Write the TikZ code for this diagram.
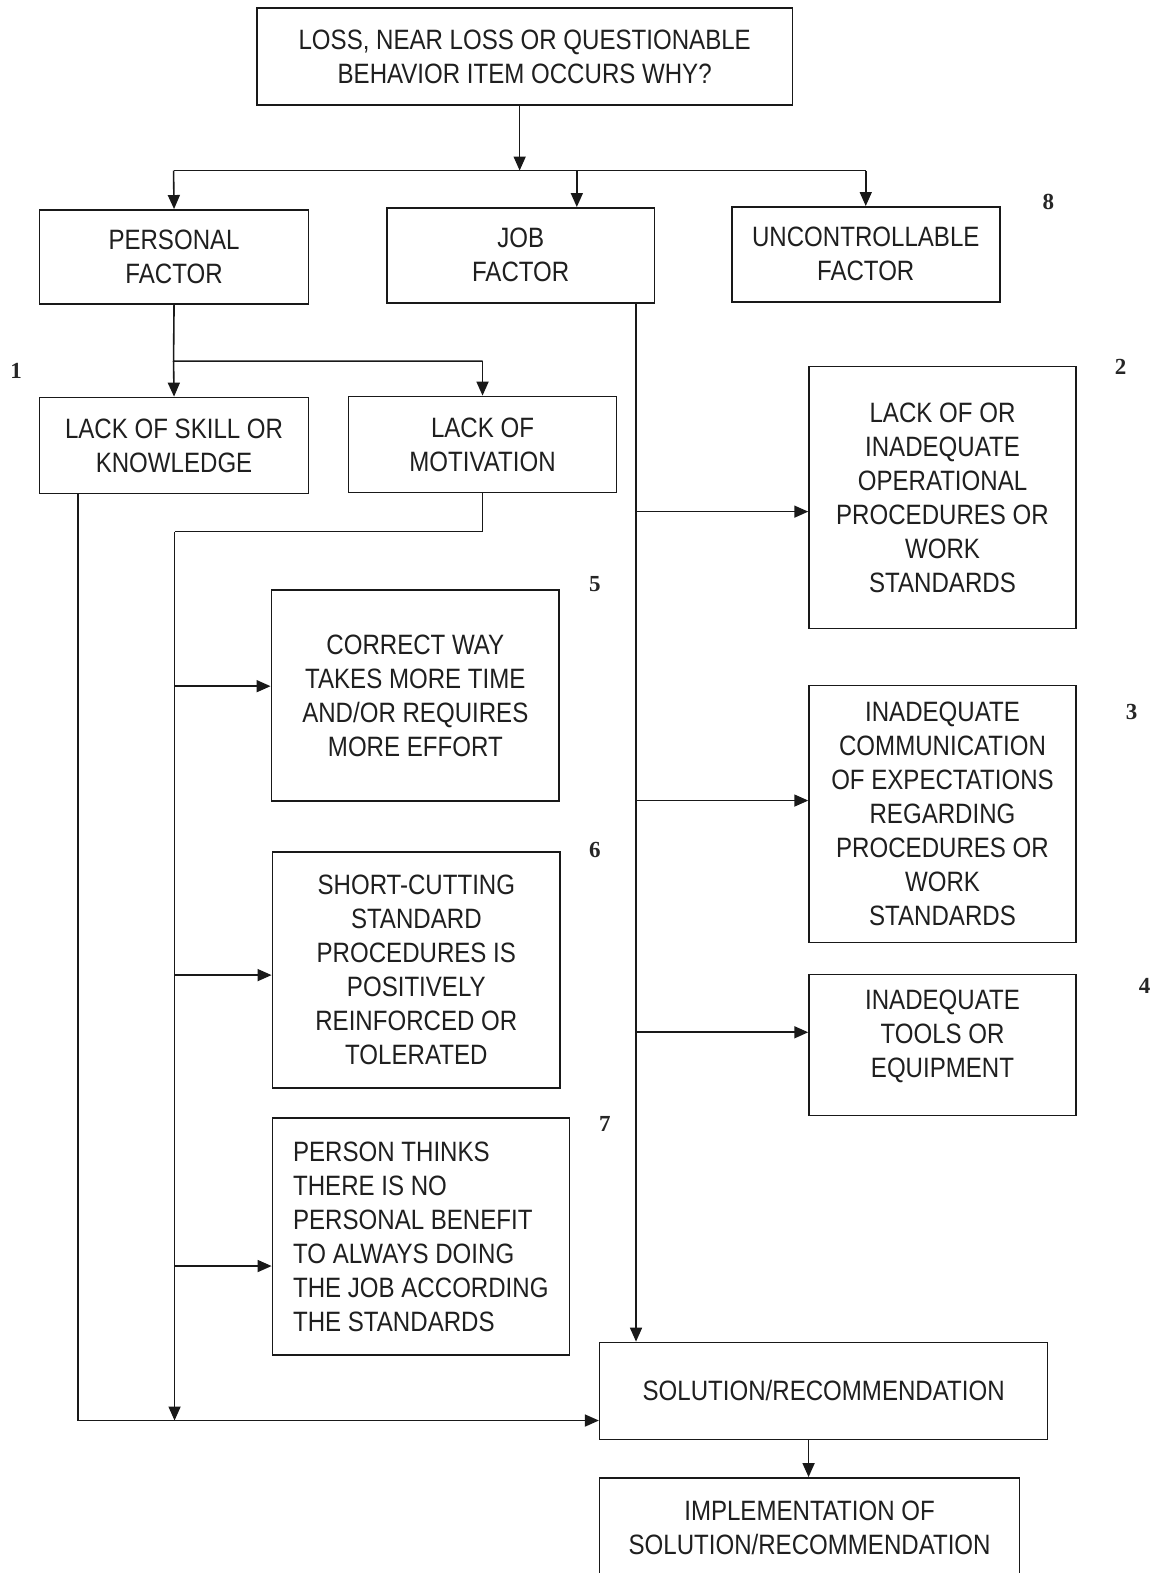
\documentclass[tikz,border=0pt]{standalone}
\usepackage{fontspec}
\setmainfont{Liberation Sans}[FakeStretch=0.86]
\newfontfamily\numfont{Liberation Serif}
\usetikzlibrary{arrows.meta}
\begin{document}
\begin{tikzpicture}[x=1.0035pt,y=-1.0035pt,
  box/.style={draw=black!90, line width=1.6pt, align=center, inner sep=0pt, text=black!88,
    font=\fontsize{28}{34}\selectfont},
  ln/.style={draw=black!90, line width=1.6pt},
  arr/.style={ln, -{Triangle[length=14pt,width=12pt]}},
  num/.style={font=\numfont\bfseries\fontsize{23}{23}\selectfont, text=black!85}]
\useasboundingbox (0,0) rectangle (1154,1568);
\clip (0,0) rectangle (1154,1568);
\fill[white] (0,0) rectangle (1154,1568);

% boxes
\node[box, minimum width=536pt, minimum height=97pt] (top) at (523,56.5)
  {LOSS, NEAR LOSS OR QUESTIONABLE\\BEHAVIOR ITEM OCCURS WHY?};
\node[box, minimum width=269pt, minimum height=94pt] (personal) at (173.5,256) {PERSONAL\\FACTOR};
\node[box, minimum width=268pt, minimum height=95pt] (job) at (519,254.5) {JOB\\FACTOR};
\node[box, minimum width=268pt, minimum height=95pt] (unc) at (863,253.5) {UNCONTROLLABLE\\FACTOR};
\node[box, minimum width=269pt, minimum height=96pt] (skill) at (173.5,444) {LACK OF SKILL OR\\KNOWLEDGE};
\node[box, minimum width=268pt, minimum height=96pt] (motiv) at (481,443) {LACK OF\\MOTIVATION};
\node[box, minimum width=288pt, minimum height=211pt] (correct) at (414,693.5)
  {CORRECT WAY\\TAKES MORE TIME\\AND/OR REQUIRES\\MORE EFFORT};
\node[box, minimum width=288pt, minimum height=236pt] (short) at (415,967)
  {SHORT-CUTTING\\STANDARD\\PROCEDURES IS\\POSITIVELY\\REINFORCED OR\\TOLERATED};
\node[box, align=left, minimum width=297pt, minimum height=237pt] (person) at (419.5,1232.5)
  {PERSON THINKS\\THERE IS NO\\PERSONAL BENEFIT\\TO ALWAYS DOING\\THE JOB ACCORDING\\THE STANDARDS};
\node[box, minimum width=267pt, minimum height=262pt] (proc) at (939.5,496)
  {LACK OF OR\\INADEQUATE\\OPERATIONAL\\PROCEDURES OR\\WORK\\STANDARDS};
\node[box, minimum width=267pt, minimum height=257pt] (comm) at (939.5,811.5)
  {INADEQUATE\\COMMUNICATION\\OF EXPECTATIONS\\REGARDING\\PROCEDURES OR\\WORK\\STANDARDS};
\node[box, minimum width=267pt, minimum height=141pt] (tools) at (939.5,1041.5)
  {INADEQUATE\\TOOLS OR\\EQUIPMENT\\[-12pt]};
\node[box, minimum width=448pt, minimum height=97pt] (sol) at (821,1386.5) {SOLUTION/RECOMMENDATION};
\node[box, minimum width=420pt, minimum height=100pt] (impl) at (807,1523)
  {IMPLEMENTATION OF\\SOLUTION/RECOMMENDATION};

% numbers
\node[num] (n1) at (16,370) {1};
\node[num] (n2) at (1117,366) {2};
\node[num] (n3) at (1128,710) {3};
\node[num] (n4) at (1141,983) {4};
\node[num] (n5) at (593,582) {5};
\node[num] (n6) at (593,847) {6};
\node[num] (n7) at (603,1120) {7};
\node[num] (n8) at (1045,201) {8};

% junction coordinates
\coordinate (t1) at (518,170);
\coordinate (hL) at (173,170);
\coordinate (hM) at (575,170);
\coordinate (hR) at (863,170);
\coordinate (p1) at (173,360);
\coordinate (p2) at (481,360);
\coordinate (m1) at (481,530);
\coordinate (m2) at (174,530);
\coordinate (m3) at (174,1416);
\coordinate (s1) at (78,492);
\coordinate (s2) at (78,1416);
\coordinate (j1) at (634,302);
\coordinate (bA) at (174,684);
\coordinate (bB) at (174,972);
\coordinate (bC) at (174,1262);
\coordinate (cA) at (634,510);
\coordinate (cB) at (634,798);
\coordinate (cC) at (634,1029);
\coordinate (o1) at (806,1435);

% connectors
\draw[arr] (top.south -| t1) -- (t1);
\draw[ln] (hL) -- (hR);
\draw[arr] (hL) -- (personal.north);
\draw[arr] (hM) -- (job.north -| hM);
\draw[arr] (hR) -- (unc.north);
\draw[ln] (personal.south) -- (p1) -- (p2);
\draw[arr] (p1) -- (skill.north);
\draw[arr] (p2) -- (motiv.north);
\draw[ln] (motiv.south) -- (m1) -- (m2);
\draw[arr] (m2) -- (m3);
\draw[arr] (bA) -- (correct.west |- bA);
\draw[arr] (bB) -- (short.west |- bB);
\draw[arr] (bC) -- (person.west |- bC);
\draw[arr] (skill.south -| s1) -- (s2) -- (sol.west |- s2);
\draw[arr] (job.south -| j1) -- (sol.north -| j1);
\draw[arr] (cA) -- (proc.west |- cA);
\draw[arr] (cB) -- (comm.west |- cB);
\draw[arr] (cC) -- (tools.west |- cC);
\draw[arr] (sol.south -| o1) -- (impl.north -| o1);
\end{tikzpicture}
\end{document}
